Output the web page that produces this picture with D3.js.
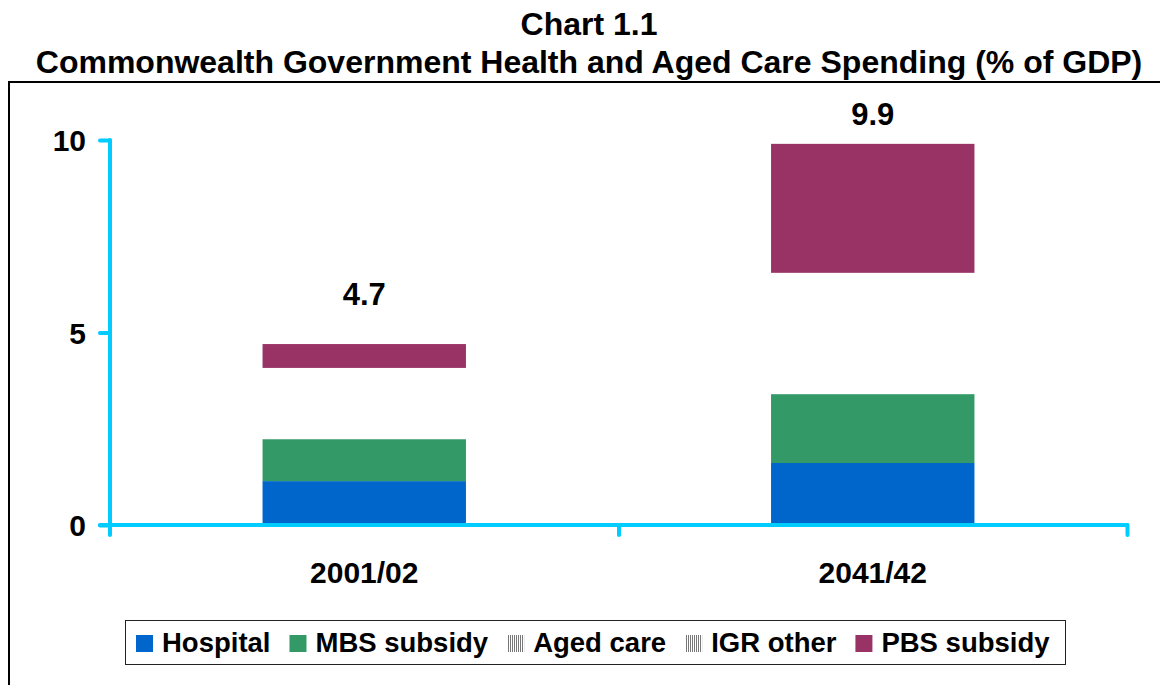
<!DOCTYPE html>
<html>
<head>
<meta charset="utf-8">
<script src="https://cdn.jsdelivr.net/npm/d3@7"></script>
<style>
  html, body { margin: 0; padding: 0; background: #fff; }
  svg { display: block; font-family: "Liberation Sans", Arial, sans-serif; font-weight: bold; }
</style>
</head>
<body>
<svg id="chart" width="1160" height="685"></svg>
<script>
// Commonwealth health and aged care spending, % of GDP
const categories = ["2001/02", "2041/42"];
const hospital   = [1.14, 1.61];
const mbsSubsidy = [1.09, 1.79];
const agedCare   = [0.70, 1.80];
const igrOther   = [1.15, 1.35];
const pbsSubsidy = [0.62, 3.35];
const yTicks     = [0, 5, 10];

const seriesNames = ["Hospital", "MBS subsidy", "Aged care", "IGR other", "PBS subsidy"];
const seriesValues = [hospital, mbsSubsidy, agedCare, igrOther, pbsSubsidy];
const barFills = ["#0066CC", "#339966", "#FFFFFF", "#FFFFFF", "#993366"];
const legendFills = ["#0066CC", "#339966", "url(#vhatch)", "url(#vhatch)", "#993366"];
const axisColor = "#00CCFF";

const svg = d3.select("#chart");

// vertical-line hatch used by the legend keys of the unfilled series
const pat = svg.append("defs").append("pattern")
  .attr("id", "vhatch").attr("patternUnits", "userSpaceOnUse")
  .attr("width", 2).attr("height", 4);
pat.append("rect").attr("width", 2).attr("height", 4).attr("fill", "#fff");
pat.append("rect").attr("width", 1).attr("height", 4).attr("fill", "#777");

// titles
svg.append("text").attr("x", 589).attr("y", 35).attr("text-anchor", "middle")
  .attr("font-size", 32).text("Chart 1.1");
svg.append("text").attr("x", 589).attr("y", 73).attr("text-anchor", "middle")
  .attr("font-size", 32).text("Commonwealth Government Health and Aged Care Spending (% of GDP)");

// chart frame
svg.append("rect").attr("x", 9).attr("y", 82).attr("width", 1170).attr("height", 700)
  .attr("fill", "none").attr("stroke", "#000").attr("stroke-width", 2);

const x0 = 110, x1 = 1127;
const y = d3.scaleLinear().domain([0, 10]).range([525, 140]);
const x = d3.scaleBand().domain(categories).range([x0, x1]).paddingInner(0.6).paddingOuter(0.3);

// stacked bars
const rows = categories.map((c, i) => {
  const r = { cat: c };
  seriesNames.forEach((s, k) => { r[s] = seriesValues[k][i]; });
  return r;
});
const stack = d3.stack().keys(seriesNames)(rows);
svg.append("g").selectAll("g").data(stack).join("g")
  .attr("fill", (d, k) => barFills[k])
  .selectAll("rect").data(d => d).join("rect")
  .attr("x", d => x(d.data.cat))
  .attr("width", x.bandwidth())
  .attr("y", d => y(d[1]))
  .attr("height", d => y(d[0]) - y(d[1]));

// total labels above bars
const totals = rows.map(r => d3.sum(seriesNames, s => r[s]));
const labelLift = [39, 19];
svg.append("g").selectAll("text").data(totals).join("text")
  .attr("x", (d, i) => x(categories[i]) + x.bandwidth() / 2)
  .attr("y", (d, i) => y(d) - labelLift[i])
  .attr("text-anchor", "middle").attr("font-size", 31)
  .text(d => d3.format(".1f")(d));

// y axis
const yAxis = svg.append("g").attr("transform", `translate(${x0},0)`)
  .call(d3.axisLeft(y).tickValues(yTicks).tickSize(10).tickSizeOuter(0).tickPadding(14));
yAxis.select(".domain").remove();
yAxis.selectAll(".tick line").attr("stroke", axisColor).attr("stroke-width", 4).attr("stroke-linecap", "round");
yAxis.selectAll(".tick text").attr("font-size", 30).attr("font-weight", "bold")
  .attr("font-family", "Liberation Sans, Arial, sans-serif").attr("fill", "#000").attr("dy", "0.36em");
svg.append("line").attr("x1", x0).attr("x2", x0).attr("y1", y(10)).attr("y2", y(0) + 10)
  .attr("stroke", axisColor).attr("stroke-width", 4).attr("stroke-linecap", "round");

// x axis with ticks at category boundaries
const xb = d3.scaleLinear().domain([0, categories.length]).range([x0, x1]);
const xAxis = svg.append("g").attr("transform", `translate(0,${y(0)})`)
  .call(d3.axisBottom(xb).tickValues(d3.range(1, categories.length + 1)).tickSize(10).tickSizeOuter(0).tickFormat(""));
xAxis.select(".domain").remove();
xAxis.selectAll(".tick line").attr("stroke", axisColor).attr("stroke-width", 4).attr("stroke-linecap", "round");
svg.append("line").attr("x1", x0 - 10).attr("x2", x1).attr("y1", y(0)).attr("y2", y(0))
  .attr("stroke", axisColor).attr("stroke-width", 4).attr("stroke-linecap", "round");

svg.append("g").selectAll("text").data(categories).join("text")
  .attr("x", d => x(d) + x.bandwidth() / 2).attr("y", 583)
  .attr("text-anchor", "middle").attr("font-size", 30).text(d => d);

// legend
svg.append("rect").attr("x", 125.5).attr("y", 620.5).attr("width", 940).attr("height", 44)
  .attr("fill", "#fff").attr("stroke", "#222").attr("stroke-width", 1);
const lg = svg.append("g");
let lx = 136;
seriesNames.forEach((name, k) => {
  lg.append("rect").attr("x", lx).attr("y", 635).attr("width", 17).attr("height", 17)
    .attr("fill", legendFills[k]);
  const t = lg.append("text").attr("x", lx + 26).attr("y", 652).attr("font-size", 27.5).text(name);
  lx += 26 + t.node().getComputedTextLength() + 19;
});
</script>
</body>
</html>
